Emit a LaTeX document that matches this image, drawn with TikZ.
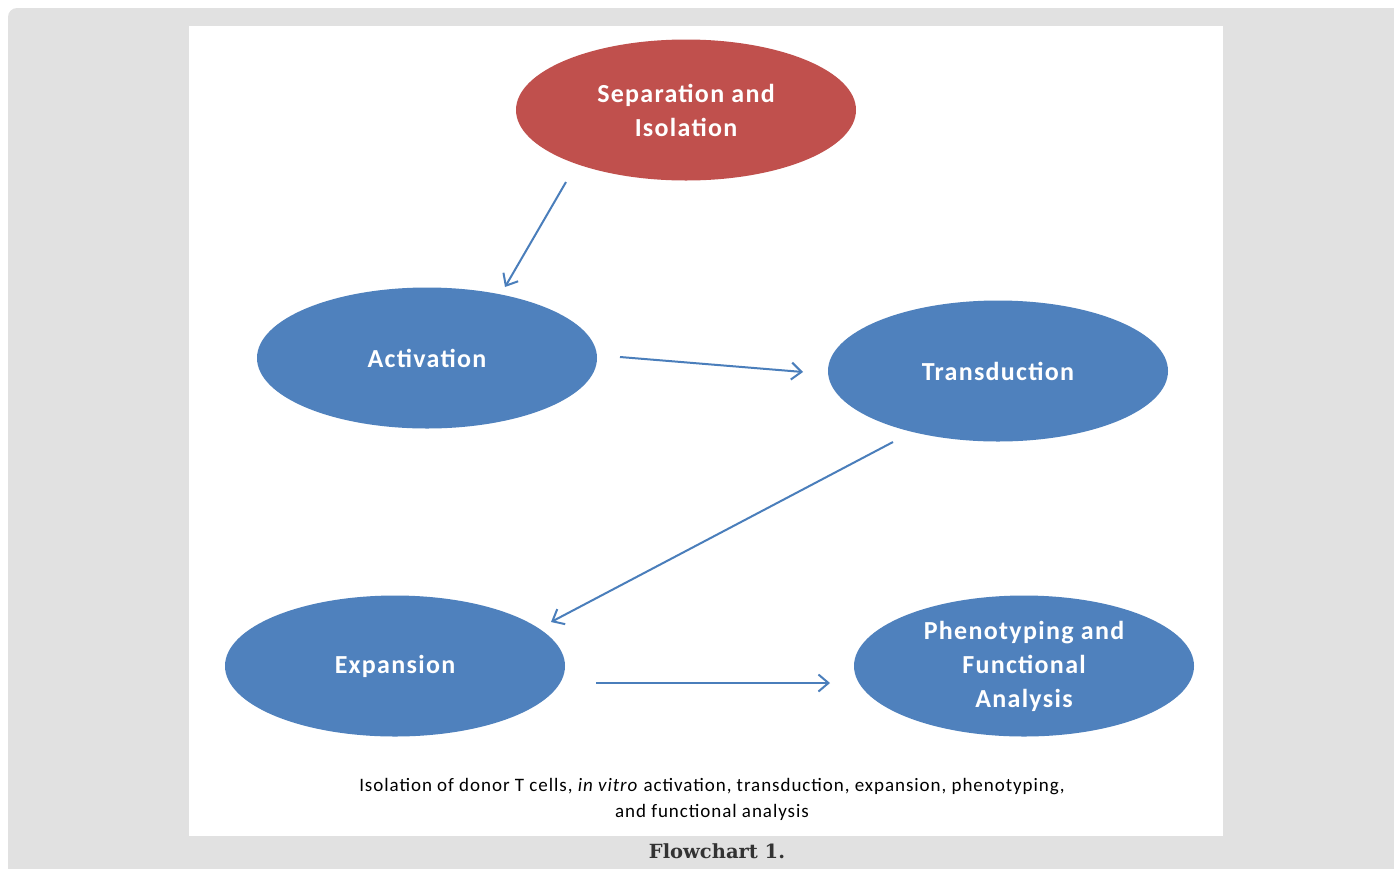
\documentclass[tikz,border=0pt]{standalone}
\usepackage{fontspec}
\setmainfont{Carlito}[LetterSpace=5]
\newfontfamily\capfont{DejaVu Serif}
\definecolor{panelgray}{HTML}{E1E1E1}
\definecolor{stepblue}{HTML}{4F81BD}
\definecolor{stepred}{HTML}{C0504D}
\definecolor{arrowblue}{HTML}{4A7EBB}
\usetikzlibrary{shapes.geometric,arrows.meta}
\begin{document}
\begin{tikzpicture}[x=1pt,y=-1pt,
	stage/.style={ellipse, fill=stepblue, minimum width=340pt, minimum height=141pt,
		inner sep=0pt, text=white, font=\bfseries\fontsize{26}{34}\selectfont, align=center},
	flow/.style={-{Straight Barb[length=10pt,width=17pt]}, arrowblue, line width=2pt}]

					% frame
					\useasboundingbox (0,0) rectangle (1394,868);
					\fill [panelgray, rounded corners=9pt] (8,8) rectangle (1420,890);
					\fill [white] (189,26) rectangle (1223,836);

					% stages
					\node [stage, fill=stepred] (sep) at (686,110) {Separation and\\Isolation};
					\node [stage] (act) at (427,358) {Activation};
					\node [stage] (trans) at (998,371) {Transduction};
					\node [stage] (exp) at (395,666) {Expansion};
					\node [stage] (pheno) at (1024,666) {Phenotyping and\\Functional\\Analysis};

					% arrows
					\coordinate (a1) at (566,182);
					\coordinate (a2) at (505,287);
					\coordinate (b1) at (620,357);
					\coordinate (b2) at (803,372);
					\coordinate (c1) at (893,442);
					\coordinate (c2) at (551,622);
					\coordinate (d1) at (596,683);
					\coordinate (d2) at (830,683);
					\draw [flow] (a1) -- (a2);
					\draw [flow] (b1) -- (b2);
					\draw [flow] (c1) -- (c2);
					\draw [flow] (d1) -- (d2);

					% captions
					\node [font=\fontsize{19}{26}\selectfont, align=center] (note) at (712,799)
						{Isolation of donor T cells, \textit{in vitro} activation, transduction, expansion, phenotyping,\\and functional analysis};
					\node [font=\capfont\bfseries\fontsize{19.5}{22}\selectfont, text=black!80] (title) at (717,851)
						{Flowchart 1.};

				\end{tikzpicture}
\end{document}
